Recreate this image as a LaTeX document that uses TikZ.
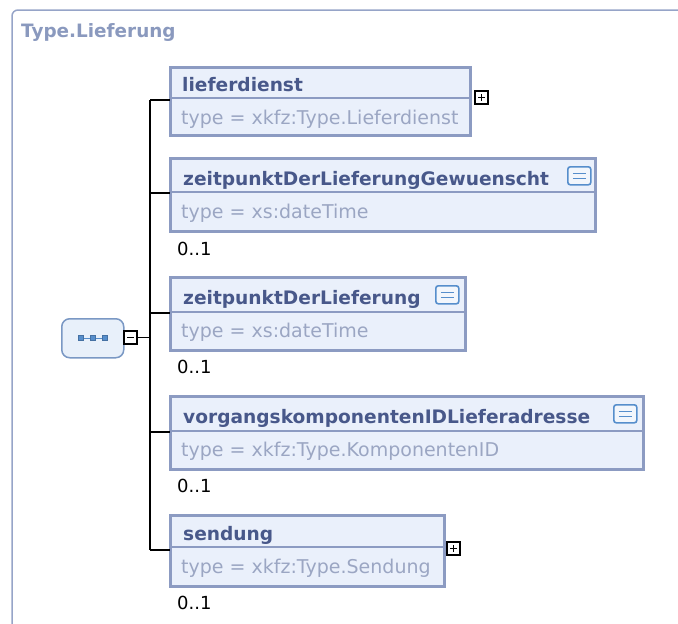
\documentclass[tikz,border=0pt]{standalone}
\usepackage{fontspec}
\setmainfont{DejaVu Sans}
\definecolor{boxline}{RGB}{140,155,194}
\definecolor{boxfill}{RGB}{234,240,251}
\definecolor{nametxt}{RGB}{72,88,138}
\definecolor{typetxt}{RGB}{155,166,195}
\definecolor{titletxt}{RGB}{138,153,190}
\definecolor{framecol}{RGB}{150,164,200}
\definecolor{seqline}{RGB}{122,152,196}
\definecolor{seqfill}{RGB}{232,240,250}
\definecolor{iconline}{RGB}{86,142,204}
\definecolor{iconfill}{RGB}{242,246,252}
\tikzset{
  elbox/.style={draw=boxline, fill=boxfill, line width=3pt, rectangle, anchor=north west, outer sep=0pt, inner sep=0pt},
  divider/.style={draw=boxline, line width=2pt},
  nametext/.style={anchor=base west, inner sep=0pt, font=\fontsize{18.6}{21}\selectfont\bfseries, text=nametxt},
  typetext/.style={anchor=base west, inner sep=0pt, font=\fontsize{19}{21}\selectfont, text=typetxt},
  multtext/.style={anchor=base west, inner sep=0pt, font=\fontsize{18}{21}\selectfont, text=black},
  conn/.style={draw=black, line width=1.3pt},
  toggle/.style={draw=black, fill=white, line width=1.4pt, minimum width=13pt, minimum height=13pt, inner sep=0pt, outer sep=0pt, anchor=north west},
  docicon/.style={draw=iconline, fill=iconfill, line width=1.6pt, rounded corners=2.5pt, minimum width=23pt, minimum height=18pt, inner sep=0pt, anchor=north west},
}
\newcommand{\plusmark}[1]{\draw[line width=1.4pt] ([xshift=-3.5pt]#1.center) -- ([xshift=3.5pt]#1.center); \draw[line width=1.4pt] ([yshift=-3.5pt]#1.center) -- ([yshift=3.5pt]#1.center);}
\newcommand{\minusmark}[1]{\draw[line width=1.4pt] ([xshift=-3.5pt]#1.center) -- ([xshift=3.5pt]#1.center);}
\newcommand{\doclines}[1]{\draw[iconline, line width=1.6pt] ([xshift=-6.5pt,yshift=2.5pt]#1.center) -- ([xshift=6.5pt,yshift=2.5pt]#1.center); \draw[iconline, line width=1.6pt] ([xshift=-6.5pt,yshift=-2.5pt]#1.center) -- ([xshift=6.5pt,yshift=-2.5pt]#1.center);}
\begin{document}
\begin{tikzpicture}[x=1pt, y=-1pt]
\useasboundingbox (0,0) rectangle (678,624);
% outer frame
\draw[framecol, line width=1.5pt, rounded corners=6pt] (12,640) -- (12,10) -- (700,10);
\node[anchor=base west, inner sep=0pt, font=\fontsize{18.4}{21}\selectfont\bfseries, text=titletxt] (title) at (21,37) {Type.Lieferung};

% sequence node
\node[draw=seqline, fill=seqfill, line width=1.5pt, rounded corners=8pt, minimum width=62pt, minimum height=39pt, anchor=north west, inner sep=0pt] (seq) at (61,318) {};
\draw[iconline, line width=1pt] ([xshift=-12pt]seq.center) -- ([xshift=12pt]seq.center);
\foreach \dx in {-12,0,12} {
  \draw[iconline!80!black, fill=iconline, line width=0.6pt] ([xshift=\dx pt]seq.center) ++(-2.5,-2.5) rectangle ++(5,5);
}
\node[toggle] (mn) at (124,331) {};
\minusmark{mn}

% junctions
\coordinate (j1) at (150,100);
\coordinate (j2) at (150,193);
\coordinate (j3) at (150,313);
\coordinate (j4) at (150,432);
\coordinate (j5) at (150,550);
\draw[conn] (mn.east) -- (mn.east -| j1);
\draw[conn] (j1) -- (j5);

% box 1
\node[elbox, minimum width=300pt, minimum height=68pt] (b1) at (170,67) {};
\draw[divider] (170,98) -- (470,98);
\node[nametext] (n1) at (182,91) {lieferdienst};
\node[typetext] (t1) at (181,124) {type = xkfz:Type.Lieferdienst};
\node[toggle] (p1) at (475,91) {};
\plusmark{p1}
\draw[conn] (j1) -- (j1 -| b1.west);

% box 2
\node[elbox, minimum width=425pt, minimum height=73pt] (b2) at (170,158) {};
\draw[divider] (170,192) -- (595,192);
\node[nametext] (n2) at (183,185) {zeitpunktDerLieferungGewuenscht};
\node[typetext] (t2) at (181,218) {type = xs:dateTime};
\node[docicon] (d2) at (567,166) {};
\doclines{d2}
\node[multtext] (m2) at (177,255) {0..1};
\draw[conn] (j2) -- (j2 -| b2.west);

% box 3
\node[elbox, minimum width=295pt, minimum height=73pt] (b3) at (170,277) {};
\draw[divider] (170,312) -- (465,312);
\node[nametext] (n3) at (183,304) {zeitpunktDerLieferung};
\node[typetext] (t3) at (181,337) {type = xs:dateTime};
\node[docicon] (d3) at (435,285) {};
\doclines{d3}
\node[multtext] (m3) at (177,373) {0..1};
\draw[conn] (j3) -- (j3 -| b3.west);

% box 4
\node[elbox, minimum width=473pt, minimum height=73pt] (b4) at (170,396) {};
\draw[divider] (170,431) -- (643,431);
\node[nametext] (n4) at (183,423) {vorgangskomponentenIDLieferadresse};
\node[typetext] (t4) at (181,456) {type = xkfz:Type.KomponentenID};
\node[docicon] (d4) at (613,404) {};
\doclines{d4}
\node[multtext] (m4) at (177,492) {0..1};
\draw[conn] (j4) -- (j4 -| b4.west);

% box 5
\node[elbox, minimum width=274pt, minimum height=71pt] (b5) at (170,515) {};
\draw[divider] (170,547) -- (444,547);
\node[nametext] (n5) at (183,540) {sendung};
\node[typetext] (t5) at (181,573) {type = xkfz:Type.Sendung};
\node[toggle] (p5) at (447,542) {};
\plusmark{p5}
\node[multtext] (m5) at (177,609) {0..1};
\draw[conn] (j5) -- (j5 -| b5.west);
\end{tikzpicture}
\end{document}
